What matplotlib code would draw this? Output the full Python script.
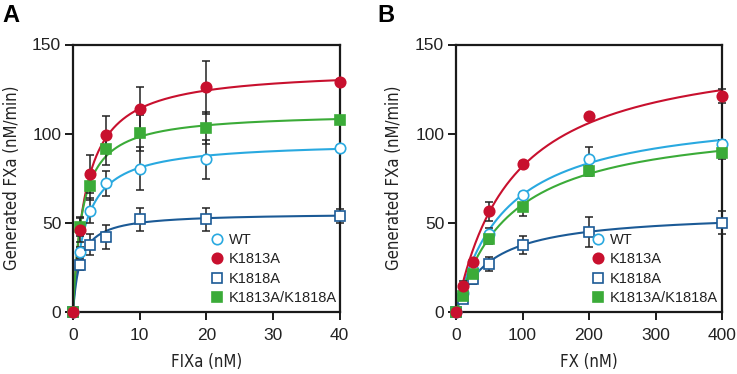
import numpy as np
import matplotlib
matplotlib.use("Agg")
import matplotlib.pyplot as plt
from matplotlib import font_manager as fm
from matplotlib.lines import Line2D

# ---------------- data ----------------
series = ["WT", "K1813A", "K1818A", "K1813A/K1818A"]

# Panel A: FIXa titration
fixa = [0, 1, 2.5, 5, 10, 20, 40]
a_wt = [0, 33.7, 56.7, 72.2, 80.4, 85.7, 92.2]
a_k1813 = [0, 46.2, 77.4, 99.5, 114.1, 125.9, 129.0]
a_k1818 = [0, 26.6, 37.8, 41.9, 52.0, 52.0, 53.9]
a_dbl = [0, 47.8, 70.9, 91.3, 100.4, 103.4, 107.7]
a_wt_err = [0, 3, 7, 7, 12, 11, 1.5]
a_k1813_err = [0, 7, 10.6, 10.5, 11.8, 14.7, 1.5]
a_k1818_err = [0, 3, 6, 6.8, 6.4, 6.5, 4]
a_dbl_err = [0, 5, 8, 9, 10, 9, 1.5]
# Michaelis-Menten fit parameters (Vmax, Km)
a_vmax = [95.6, 136.4, 55.5, 112.0]
a_km = [1.81, 1.96, 1.1, 1.4]

# Panel B: FX titration
fx = [0, 10, 25, 50, 100, 200, 400]
b_wt = [0, 10.5, 23.5, 43.9, 65.8, 86.0, 94.4]
b_k1813 = [0, 14.6, 28.0, 56.5, 83.2, 109.8, 121.0]
b_k1818 = [0, 7.5, 18.7, 27.1, 37.8, 44.9, 50.1]
b_dbl = [0, 8.8, 21.5, 41.1, 58.9, 79.1, 89.0]
b_wt_err = [0, 1.5, 2, 3, 1.5, 6.6, 2]
b_k1813_err = [0, 3, 2, 5.2, 1.5, 1.5, 4]
b_k1818_err = [0, 2, 3, 4, 5, 8.4, 6.5]
b_dbl_err = [0, 1.5, 2, 3, 5, 3, 3]
b_vmax = [114.3, 150.8, 56.25, 108.7]
b_km = [73.8, 84.6, 50.0, 80.6]

colors = ["#29a9e0", "#c8102e", "#1b5a96", "#3bab38"]
markers = ["o", "o", "s", "s"]
filled = [False, True, False, True]

# ---------------- fonts ----------------
names = {f.name for f in fm.fontManager.ttflist}
tick_font = "Liberation Sans" if "Liberation Sans" in names else "DejaVu Sans"
cond = [f for f in fm.fontManager.ttflist
        if f.name == "DejaVu Sans" and "ondensed" in str(f.stretch) + f.fname]
label_kw = dict(family=["DejaVu Sans"], fontstretch="condensed") if cond else dict(family=[tick_font])
plt.rcParams["font.family"] = [tick_font, "DejaVu Sans"]

W, H = 737, 374
fig = plt.figure(figsize=(W / 100, H / 100), dpi=100)


def add_axes(l, r, t, b):
    return fig.add_axes([l / W, 1 - b / H, (r - l) / W, (b - t) / H])


def draw_panel(ax, x, ys, errs, vmax, km, xmax, xticks, xlabel, legx, ylab_x):
    xx = np.linspace(0, xmax, 400)
    for i in range(4):
        c = colors[i]
        fit = vmax[i] * xx / (km[i] + xx)
        ax.plot(xx, fit, color=c, lw=1.5, zorder=2, clip_on=False)
    for i in range(4):
        ax.errorbar(x, ys[i], yerr=errs[i], fmt="none", ecolor="#222222",
                    elinewidth=1.1, capsize=3.2, capthick=1.1, zorder=3, clip_on=False)
    order = [0, 2, 3, 1]
    for i in order:
        c = colors[i]
        ax.plot(x, ys[i], ls="none", marker=markers[i], ms=7.5,
                mfc=c if filled[i] else "white", mec=c, mew=1.2, zorder=4, clip_on=False)
    ax.set_xlim(0, xmax)
    ax.set_ylim(0, 150)
    ax.set_xticks(xticks)
    ax.set_yticks([0, 50, 100, 150])
    for s in ax.spines.values():
        s.set_linewidth(1.6)
        s.set_color("#1a1a1a")
    ax.tick_params(direction="out", length=5.5, width=1.4, color="#1a1a1a",
                   labelsize=12.5, labelcolor="#222222")
    ax.tick_params(axis="x", pad=6)
    ax.tick_params(axis="y", pad=3)
    ax.set_xlabel(xlabel, fontsize=12, color="#222222", va="center", **label_kw)
    ax.set_ylabel("Generated FXa (nM/min)", fontsize=12, color="#222222", va="center", **label_kw)
    ax.xaxis.set_label_coords(0.5, -0.187)
    ax.yaxis.set_label_coords(ylab_x, 0.5)
    handles = [Line2D([], [], ls="none", marker=markers[i], ms=7.5,
                      mfc=colors[i] if filled[i] else "white", mec=colors[i], mew=1.2)
               for i in range(4)]
    ax.legend(handles, series, loc="lower left", bbox_to_anchor=(legx, 0.003), frameon=False,
              fontsize=10.5, handletextpad=0.2, labelspacing=0.38, borderaxespad=0,
              handlelength=1.2, labelcolor="#222222")


axA = add_axes(73, 339.5, 44.5, 312)
draw_panel(axA, fixa, [a_wt, a_k1813, a_k1818, a_dbl],
           [a_wt_err, a_k1813_err, a_k1818_err, a_dbl_err], a_vmax, a_km, 40,
           [0, 10, 20, 30, 40], "FIXa (nM)", 0.486, -0.229)

axB = add_axes(456, 722, 44.5, 312)
draw_panel(axB, fx, [b_wt, b_k1813, b_k1818, b_dbl],
           [b_wt_err, b_k1813_err, b_k1818_err, b_dbl_err], b_vmax, b_km, 400,
           [0, 100, 200, 300, 400], "FX (nM)", 0.479, -0.233)

fig.text(2 / W, 1 - 16 / H, "A", fontsize=17, fontweight="bold", va="center", ha="left")
fig.text(377 / W, 1 - 16 / H, "B", fontsize=17, fontweight="bold", va="center", ha="left")

fig.savefig("out.png", dpi=100)
